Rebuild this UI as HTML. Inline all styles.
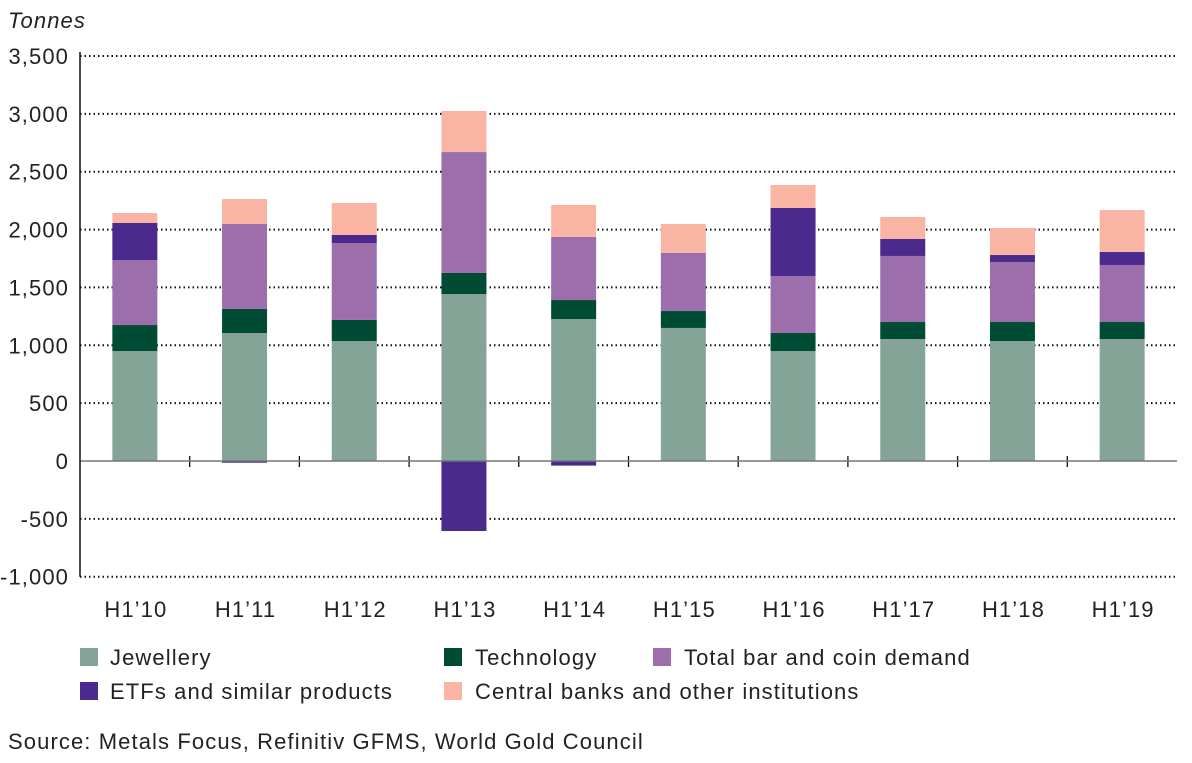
<!DOCTYPE html>
<html><head><meta charset="utf-8"><style>
body{margin:0;background:#fff;font-family:"Liberation Sans",sans-serif;}
svg text{font-family:"Liberation Sans",sans-serif;fill:#222;letter-spacing:1.1px;}
</style></head><body>
<svg width="1192" height="758">
<text x="8" y="28" font-size="22" font-style="italic">Tonnes</text>
<g id="grid"></g><g id="bars"></g><g id="axes"></g>
<g>
<rect x="80" y="648" width="18" height="18" fill="#83a497"/>
<text x="110" y="665" font-size="22">Jewellery</text>
<rect x="444" y="648" width="18" height="18" fill="#004b33"/>
<text x="475" y="665" font-size="22">Technology</text>
<rect x="653" y="648" width="18" height="18" fill="#9c6eac"/>
<text x="684" y="665" font-size="22">Total bar and coin demand</text>
<rect x="80" y="682" width="18" height="18" fill="#4a2a8c"/>
<text x="110" y="699" font-size="22">ETFs and similar products</text>
<rect x="444" y="682" width="18" height="18" fill="#f9b4a3"/>
<text x="475" y="699" font-size="22">Central banks and other institutions</text>
</g>
<text x="8" y="749" font-size="22">Source: Metals Focus, Refinitiv GFMS, World Gold Council</text>
</svg>
<script>
const categories=["H1’10","H1’11","H1’12","H1’13","H1’14","H1’15","H1’16","H1’17","H1’18","H1’19"];
const jewellery=[950,1106,1037,1443,1227,1150,950,1054,1037,1054];
const technology=[225,208,182,182,164,146,156,147,164,147];
const barCoin=[562,734,665,1045,545,502,493,571,519,493];
const etfs=[320,-15,69,-605,-40,0,588,147,60,112];
const centralBanks=[86,216,277,355,277,250,198,190,234,363];
const yTicks=[-1000,-500,0,500,1000,1500,2000,2500,3000,3500];
const NS="http://www.w3.org/2000/svg";
const x0=80,x1=1177,yTop=56,yZero=461,scale=405/3500;
const Y=v=>yZero-v*scale;
const slot=(x1-x0)/categories.length;
const X=i=>x0+slot*(i+0.5);
function mk(tag,attrs,parent){const e=document.createElementNS(NS,tag);for(const k in attrs)e.setAttribute(k,attrs[k]);parent.appendChild(e);return e;}
const grid=document.getElementById('grid'),bars=document.getElementById('bars'),axes=document.getElementById('axes');
yTicks.forEach(v=>{
 if(v!==0){const l=mk('line',{x1:x0,x2:x1,y1:Y(v),y2:Y(v),stroke:'#111','stroke-width':2,'stroke-dasharray':'1.5 3'},grid);
 
 }
 const t=mk('text',{x:69,y:Y(v)+8,'text-anchor':'end','font-size':22},axes);
 t.textContent=v.toLocaleString('en-US');
 
 
});
const series=[[jewellery,'#83a497','jewellery'],[technology,'#004b33','technology'],[barCoin,'#9c6eac','bar-coin'],[etfs,'#4a2a8c','etfs'],[centralBanks,'#f9b4a3','central-banks']];
const bw=45;
categories.forEach((c,i)=>{
 let pos=0,neg=0;
 series.forEach(([arr,col,nm])=>{
  const v=arr[i];if(v===0)return;
  let a,b;
  if(v>0){a=pos;b=pos+v;pos=b;}else{a=neg;b=neg+v;neg=b;}
  const r=mk('rect',{x:X(i)-bw/2,width:bw,y:Math.min(Y(a),Y(b)),height:Math.abs(Y(a)-Y(b)),fill:col},bars);
  
  
 });
 const t=mk('text',{x:X(i)+1,y:617,'text-anchor':'middle','font-size':22},axes);
 t.textContent=c;
 
 
 if(i>0){const tk=mk('line',{x1:x0+slot*i,x2:x0+slot*i,y1:yZero-5,y2:yZero+6,stroke:'#111','stroke-width':1.3},axes);
 
 }
});
const z=mk('line',{x1:x0,x2:x1,y1:yZero,y2:yZero,stroke:'#777','stroke-width':1.5},axes);


const ya=mk('line',{x1:x0,x2:x0,y1:yTop-4,y2:Y(-1000),stroke:'#111','stroke-width':1.5},axes);


</script>
</body></html>
